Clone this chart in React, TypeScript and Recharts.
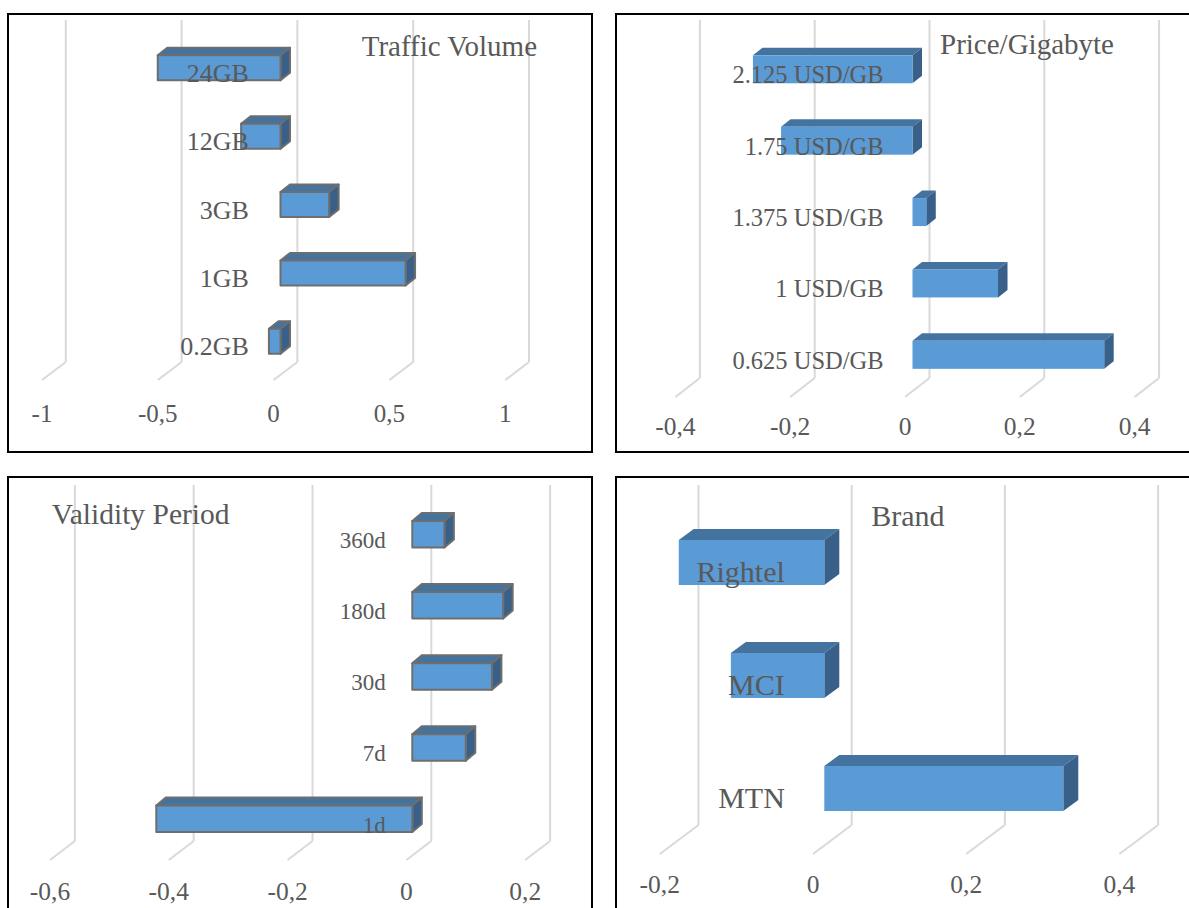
import { BarChart, Bar, XAxis, YAxis, CartesianGrid } from 'recharts';

// Part-worth utilities per attribute level
const trafficCategories = ['24GB', '12GB', '3GB', '1GB', '0.2GB'];
const trafficValues = [-0.53, -0.17, 0.21, 0.54, -0.05];
const trafficTicks = [-1, -0.5, 0, 0.5, 1];

const priceCategories = ['2.125 USD/GB', '1.75 USD/GB', '1.375 USD/GB', '1 USD/GB', '0.625 USD/GB'];
const priceValues = [-0.278, -0.229, 0.024, 0.149, 0.334];
const priceTicks = [-0.4, -0.2, 0, 0.2, 0.4];

const validityCategories = ['360d', '180d', '30d', '7d', '1d'];
const validityValues = [0.054, 0.153, 0.134, 0.09, -0.431];
const validityTicks = [-0.6, -0.4, -0.2, 0, 0.2];

const brandCategories = ['Rightel', 'MCI', 'MTN'];
const brandValues = [-0.19, -0.122, 0.312];
const brandTicks = [-0.2, 0, 0.2, 0.4];

const FONT = '"Liberation Serif", "Times New Roman", serif';
const TEXT = '#595959';
const GRID = '#D9D9D9';
const FRONT = '#5B9BD5';
const TOP = '#4573A0';
const SIDE = '#386089';
const EDGE = '#6E6E6E';
const BORDER = 2;
const AXIS_H = 30;

type Panel = {
  title: string;
  categories: string[];
  values: number[];
  ticks: number[];
  box: { left: number; top: number; width: number; height: number };
  zeroX: number;
  unit: number;
  bandTop: number;
  bandBottom: number;
  barSize: number;
  depth: [number, number];
  outline: boolean;
  front: number;
  back: number;
  wallTop: number;
  wallBottom: number;
  floorY: number;
  tickBaseline: number;
  tickSize: number;
  labelDx: number;
  labelDy: number;
  labelSize: number;
  titleX: number;
  titleBaseline: number;
  titleSize: number;
};

const panels: Panel[] = [
  {
    title: 'Traffic Volume',
    categories: trafficCategories,
    values: trafficValues,
    ticks: trafficTicks,
    box: { left: 7, top: 13, width: 586, height: 440 },
    zeroX: 280.5, unit: 231.6,
    bandTop: 33.3, bandBottom: 375.2, barSize: 25,
    depth: [9.5, 7.5], outline: true,
    front: -6.9, back: 16.9, wallTop: 20, wallBottom: 362, floorY: 380,
    tickBaseline: 421.5, tickSize: 25,
    labelDx: -31.7, labelDy: 14, labelSize: 26,
    titleX: 361.7, titleBaseline: 56, titleSize: 29,
  },
  {
    title: 'Price/Gigabyte',
    categories: priceCategories,
    values: priceValues,
    ticks: priceTicks,
    box: { left: 615, top: 13, width: 600, height: 440 },
    zeroX: 912.5, unit: 574,
    bandTop: 33.3, bandBottom: 390.2, barSize: 28,
    depth: [9.5, 7.5], outline: false,
    front: -7.5, back: 17, wallTop: 20, wallBottom: 378, floorY: 397,
    tickBaseline: 435, tickSize: 25.5,
    labelDx: -28.9, labelDy: 14, labelSize: 24.5,
    titleX: 940, titleBaseline: 54.5, titleSize: 29,
  },
  {
    title: 'Validity Period',
    categories: validityCategories,
    values: validityValues,
    ticks: validityTicks,
    box: { left: 7, top: 476, width: 586, height: 440 },
    zeroX: 412.3, unit: 594,
    bandTop: 498.9, bandBottom: 854.6, barSize: 26.5,
    depth: [9.5, 8], outline: true,
    front: -5.9, back: 19, wallTop: 485, wallBottom: 841, floorY: 860,
    tickBaseline: 900, tickSize: 25.5,
    labelDx: -26.5, labelDy: 13.8, labelSize: 23,
    titleX: 51.7, titleBaseline: 525, titleSize: 29.5,
  },
  {
    title: 'Brand',
    categories: brandCategories,
    values: brandValues,
    ticks: brandTicks,
    box: { left: 615, top: 476, width: 600, height: 440 },
    zeroX: 824.3, unit: 766,
    bandTop: 506, bandBottom: 845, barSize: 45,
    depth: [15, 11], outline: false,
    front: -11.3, back: 27.4, wallTop: 485, wallBottom: 825, floorY: 854,
    tickBaseline: 893, tickSize: 25.5,
    labelDx: -39.5, labelDy: 19, labelSize: 30,
    titleX: 871.2, titleBaseline: 526, titleSize: 30,
  },
];

function ChartPanel({ p }: { p: Panel }) {
  const ox = p.box.left + BORDER;
  const oy = p.box.top + BORDER;
  const w = p.box.width - 2 * BORDER;
  const h = p.box.height - 2 * BORDER;
  const min = p.ticks[0];
  const max = p.ticks[p.ticks.length - 1];
  const plotLeft = p.zeroX + min * p.unit;
  const plotRight = p.zeroX + max * p.unit;
  const margin = {
    left: plotLeft - ox,
    right: ox + w - plotRight,
    top: p.bandTop - oy,
    bottom: oy + h - p.bandBottom - AXIS_H,
  };
  const data = p.categories.map((name, i) => ({ name, value: p.values[i] }));
  const [dx, dy] = p.depth;

  // back wall line plus the floor diagonal down to the front tick
  const gridLine = (g: any) => {
    const bx = g.x1 + p.back;
    return (
      <g key={g.key}>
        <line x1={bx} y1={p.wallTop - oy} x2={bx} y2={p.wallBottom - oy} stroke={GRID} strokeWidth={2} />
        <line x1={bx} y1={p.wallBottom - oy} x2={g.x1 + p.front} y2={p.floorY - oy} stroke={GRID} strokeWidth={2} />
      </g>
    );
  };

  const tick = (t: any) => (
    <text
      x={t.x + p.front}
      y={p.tickBaseline - oy}
      textAnchor="middle"
      fill={TEXT}
      fontSize={p.tickSize}
      fontFamily={FONT}
    >
      {String(t.payload.value).replace('.', ',')}
    </text>
  );

  // box-shaped bar: top face, end face, front face, then the category name by the zero line
  const bar3d = (b: any) => {
    const x0 = Math.min(b.x, b.x + b.width);
    const x1 = Math.max(b.x, b.x + b.width);
    const y0 = Math.min(b.y, b.y + b.height);
    const y1 = Math.max(b.y, b.y + b.height);
    const zero = b.payload.value < 0 ? x1 : x0;
    const edge = p.outline
      ? { stroke: EDGE, strokeWidth: 2, strokeLinejoin: 'round' as const }
      : { stroke: 'none' };
    return (
      <g>
        <polygon points={`${x0},${y0} ${x0 + dx},${y0 - dy} ${x1 + dx},${y0 - dy} ${x1},${y0}`} fill={TOP} {...edge} />
        <polygon points={`${x1},${y0} ${x1 + dx},${y0 - dy} ${x1 + dx},${y1 - dy} ${x1},${y1}`} fill={SIDE} {...edge} />
        <rect x={x0} y={y0} width={x1 - x0} height={y1 - y0} fill={FRONT} {...edge} />
        <text
          x={zero + p.labelDx}
          y={(y0 + y1) / 2 + p.labelDy}
          textAnchor="end"
          fill={TEXT}
          fontSize={p.labelSize}
          fontFamily={FONT}
        >
          {b.payload.name}
        </text>
      </g>
    );
  };

  return (
    <div
      style={{
        position: 'absolute',
        left: p.box.left,
        top: p.box.top,
        width: p.box.width,
        height: p.box.height,
        boxSizing: 'border-box',
        border: `${BORDER}px solid #000`,
        background: '#fff',
      }}
    >
      <div style={{ position: 'absolute', left: 0, top: 0 }}>
        <BarChart width={w} height={h} data={data} layout="vertical" margin={margin}>
          <CartesianGrid horizontal={false} vertical={gridLine} syncWithTicks />
          <XAxis
            type="number"
            domain={[min, max]}
            ticks={p.ticks}
            interval={0}
            axisLine={false}
            tickLine={false}
            tick={tick}
            height={AXIS_H}
          />
          <YAxis type="category" dataKey="name" hide />
          <Bar dataKey="value" barSize={p.barSize} shape={bar3d} isAnimationActive={false} />
        </BarChart>
      </div>
      <div
        style={{
          position: 'absolute',
          left: p.titleX - ox,
          top: p.titleBaseline - 0.8375 * p.titleSize - oy,
          fontSize: p.titleSize,
          lineHeight: 1,
          whiteSpace: 'nowrap',
          color: TEXT,
          fontFamily: FONT,
        }}
      >
        {p.title}
      </div>
    </div>
  );
}

export default function App() {
  return (
    <div
      style={{
        position: 'absolute',
        left: 0,
        top: 0,
        width: 1189,
        height: 908,
        overflow: 'hidden',
        background: '#fff',
      }}
    >
      {panels.map((p) => (
        <ChartPanel key={p.title} p={p} />
      ))}
    </div>
  );
}
